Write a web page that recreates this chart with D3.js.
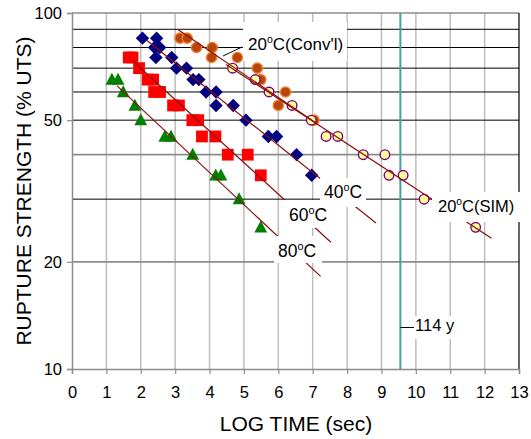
<!DOCTYPE html>
<html>
<head>
<meta charset="utf-8">
<script src="https://cdn.jsdelivr.net/npm/d3@7"></script>
<style>
  html, body { margin: 0; padding: 0; background: #fff; }
  svg { display: block; font-family: "Liberation Sans", Arial, sans-serif; }
</style>
</head>
<body>
<svg id="chart" width="531" height="439"></svg>
<script>
// ---------------- DATA ----------------
const xTickValues = [0,1,2,3,4,5,6,7,8,9,10,11,12,13];
const yTickValues = [10, 20, 50, 100];
const yBlackLines = [30, 50, 60, 70, 80, 90];
const yGrayLines = [20, 40, 100];

// 80°C (green triangles)
const t80X = [1.16, 1.34, 1.49, 1.83, 2.00, 2.70, 2.88, 3.51, 4.18, 4.33, 4.86, 5.49];
const t80Y = [65, 65, 60, 55, 50, 45, 45, 40, 35, 35, 30, 25];

// 60°C (red squares)
const t60X = [1.65, 1.76, 1.95, 2.20, 2.36, 2.39, 2.56, 2.94, 3.11, 3.50, 3.67, 3.78, 4.17, 4.53, 5.11, 5.49];
const t60Y = [75, 75, 70, 65, 65, 60, 60, 55, 55, 50, 50, 45, 45, 40, 40, 35];

// 40°C (blue diamonds)
const t40X = [2.05, 2.46, 2.40, 2.55, 2.44, 2.90, 3.04, 3.33, 3.52, 3.69, 3.90, 4.19, 4.19, 4.69, 5.06, 5.71, 5.95, 6.53, 6.97];
const t40Y = [85, 85, 80, 80, 75, 75, 70, 70, 65, 65, 60, 60, 55, 55, 50, 45, 45, 40, 35];

// 20°C conventional (orange circles)
const convX = [3.14, 3.35, 3.62, 4.08, 4.06, 4.81, 5.39, 5.49, 6.21, 6.00, 7.04];
const convY = [85, 85, 80, 80, 75, 75, 70, 65, 60, 55, 50];

// 20°C SIM (yellow circles)
const simX = [4.67, 5.33, 5.73, 6.40, 6.96, 7.39, 7.73, 8.47, 9.10, 9.22, 9.63, 10.24, 11.74];
const simY = [70, 65, 60, 55, 50, 45, 45, 40, 40, 35, 35, 30, 25];

// Fitted lines (start/end)
const fitNames = ["80°C", "60°C", "40°C", "20°C Conv'l", "20°C SIM"];
const fitX1 = [1.31, 1.74, 2.18, 3.08, 4.48];
const fitY1 = [62.4, 73.8, 83.7, 89.9, 71.7];
const fitX2 = [7.23, 7.53, 8.84, 7.12, 12.20];
const fitY2 = [18.2, 22.7, 25.7, 48.9, 23.3];

// 114 years in log10(seconds)
const designLife = 9.55;

// ---------------- CHART ----------------
const svg = d3.select("#chart");
const x = d3.scaleLinear().domain([0, 13]).range([72, 519]);
const y = d3.scaleLog().domain([10, 100]).range([369, 13]);

const g = svg.append("g");

// vertical gridlines
g.selectAll(".vgrid").data(xTickValues.slice(1, -1)).enter().append("line")
  .attr("x1", d => x(d)).attr("x2", d => x(d))
  .attr("y1", y(100)).attr("y2", y(10))
  .attr("stroke", "#bdbdbd").attr("stroke-width", 1.5);

// gray horizontal gridlines
g.selectAll(".hgray").data(yGrayLines).enter().append("line")
  .attr("x1", x(0)).attr("x2", x(13))
  .attr("y1", d => y(d)).attr("y2", d => y(d))
  .attr("stroke", "#8c8c8c").attr("stroke-width", 1.6);

// black horizontal lines
g.selectAll(".hblack").data(yBlackLines).enter().append("line")
  .attr("x1", x(0)).attr("x2", x(13))
  .attr("y1", d => y(d)).attr("y2", d => y(d))
  .attr("stroke", "#000").attr("stroke-width", 1);

// right border
g.append("line").attr("x1", x(13)).attr("x2", x(13)).attr("y1", y(100)).attr("y2", y(10))
  .attr("stroke", "#000").attr("stroke-width", 1.2);

// axes
const xAxis = d3.axisBottom(x).tickValues(xTickValues).tickSize(5).tickPadding(12).tickFormat(d3.format("d"));
const gx = svg.append("g").attr("transform", `translate(0,${y(10)})`).call(xAxis);
gx.select(".domain").attr("stroke", "#8c8c8c").attr("stroke-width", 1.5);
gx.selectAll(".tick line").attr("stroke", "#8c8c8c").attr("stroke-width", 1.2);
gx.selectAll(".tick text").attr("font-size", 16.5).attr("fill", "#000")
  .attr("font-family", "Liberation Sans, Arial, sans-serif");

const yAxis = d3.axisLeft(y).tickValues(yTickValues).tickSize(5).tickPadding(5).tickFormat(d3.format("d"));
const gy = svg.append("g").attr("transform", `translate(${x(0)},0)`).call(yAxis);
gy.select(".domain").attr("stroke", "#8c8c8c").attr("stroke-width", 1.5);
gy.selectAll(".tick line").attr("stroke", "#8c8c8c").attr("stroke-width", 1.2);
gy.selectAll(".tick text").attr("font-size", 16.5).attr("fill", "#000")
  .attr("font-family", "Liberation Sans, Arial, sans-serif");

// design life line
svg.append("line").attr("x1", x(designLife)).attr("x2", x(designLife))
  .attr("y1", y(100)).attr("y2", y(10))
  .attr("stroke", "#46a0a0").attr("stroke-width", 2);

// markers
const zip = (xs, ys) => xs.map((v, i) => [v, ys[i]]);
const mk = svg.append("g");

mk.selectAll(".tri").data(zip(t80X, t80Y)).enter().append("path")
  .attr("d", "M0,-6.8 L6.4,5.2 L-6.4,5.2 Z")
  .attr("transform", d => `translate(${x(d[0])},${y(d[1])})`)
  .attr("fill", "#008000");

mk.selectAll(".sq").data(zip(t60X, t60Y)).enter().append("rect")
  .attr("x", d => x(d[0]) - 5.9).attr("y", d => y(d[1]) - 5.9)
  .attr("width", 11.8).attr("height", 11.8)
  .attr("fill", "#ff0000");

mk.selectAll(".dia").data(zip(t40X, t40Y)).enter().append("path")
  .attr("d", "M0,-6.7 L6.7,0 L0,6.7 L-6.7,0 Z")
  .attr("transform", d => `translate(${x(d[0])},${y(d[1])})`)
  .attr("fill", "#000080");

mk.selectAll(".conv").data(zip(convX, convY)).enter().append("circle")
  .attr("cx", d => x(d[0])).attr("cy", d => y(d[1])).attr("r", 5.1)
  .attr("fill", "#b4480c").attr("stroke", "#f47c2c").attr("stroke-width", 1.4);

mk.selectAll(".sim").data(zip(simX, simY)).enter().append("circle")
  .attr("cx", d => x(d[0])).attr("cy", d => y(d[1])).attr("r", 4.8)
  .attr("fill", "#ffff99").attr("stroke", "#800080").attr("stroke-width", 1.4);

// fitted lines
svg.append("g").selectAll("line").data(fitNames.map((n, i) => i)).enter().append("line")
  .attr("x1", i => x(fitX1[i])).attr("y1", i => y(fitY1[i]))
  .attr("x2", i => x(fitX2[i])).attr("y2", i => y(fitY2[i]))
  .attr("stroke", "#8b0f0f").attr("stroke-width", 1.2);

// leader line for conventional label
svg.append("line").attr("x1", 223).attr("y1", 56).attr("x2", 242).attr("y2", 47)
  .attr("stroke", "#000").attr("stroke-width", 1);

// labels with white boxes
const labels = [
  { base: "20", tail: "C(Conv'l)", tx: 248, ty: 50, box: [243, 22, 347, 61], fs: 17 },
  { base: "40", tail: "C", tx: 324, ty: 198, box: [320, 178, 366, 207], fs: 17.5 },
  { base: "60", tail: "C", tx: 289, ty: 221, box: [284, 200, 331, 228], fs: 17.5 },
  { base: "80", tail: "C", tx: 278, ty: 257, box: [274, 236, 322, 263], fs: 17.5 },
  { base: "20", tail: "C(SIM)", tx: 438, ty: 212, box: [432, 192, 521, 222], fs: 16.5 }
];
const lg = svg.append("g");
labels.forEach(l => {
  lg.append("rect").attr("x", l.box[0]).attr("y", l.box[1])
    .attr("width", l.box[2] - l.box[0]).attr("height", l.box[3] - l.box[1])
    .attr("fill", "#fff");
  const t = lg.append("text").attr("x", l.tx).attr("y", l.ty)
    .attr("font-size", l.fs).attr("fill", "#000");
  t.append("tspan").text(l.base);
  t.append("tspan").attr("font-size", l.fs * 0.62).attr("dy", -l.fs * 0.42).text("o");
  t.append("tspan").attr("dy", l.fs * 0.42).text(l.tail);
});

// 114 y label
lg.append("rect").attr("x", 414).attr("y", 316).attr("width", 44).attr("height", 23).attr("fill", "#fff");
lg.append("line").attr("x1", x(designLife)).attr("x2", 414).attr("y1", 327.5).attr("y2", 327.5)
  .attr("stroke", "#000").attr("stroke-width", 1);
lg.append("text").attr("x", 415).attr("y", 331).attr("font-size", 16.5).attr("fill", "#000").text("114 y");

// axis titles
svg.append("text").attr("x", 296).attr("y", 431).attr("text-anchor", "middle")
  .attr("font-size", 21).attr("fill", "#000").text("LOG TIME (sec)");
svg.append("text").attr("transform", "translate(31,191) rotate(-90)").attr("text-anchor", "middle")
  .attr("font-size", 21).attr("fill", "#000").text("RUPTURE STRENGTH (% UTS)");
</script>
</body>
</html>
